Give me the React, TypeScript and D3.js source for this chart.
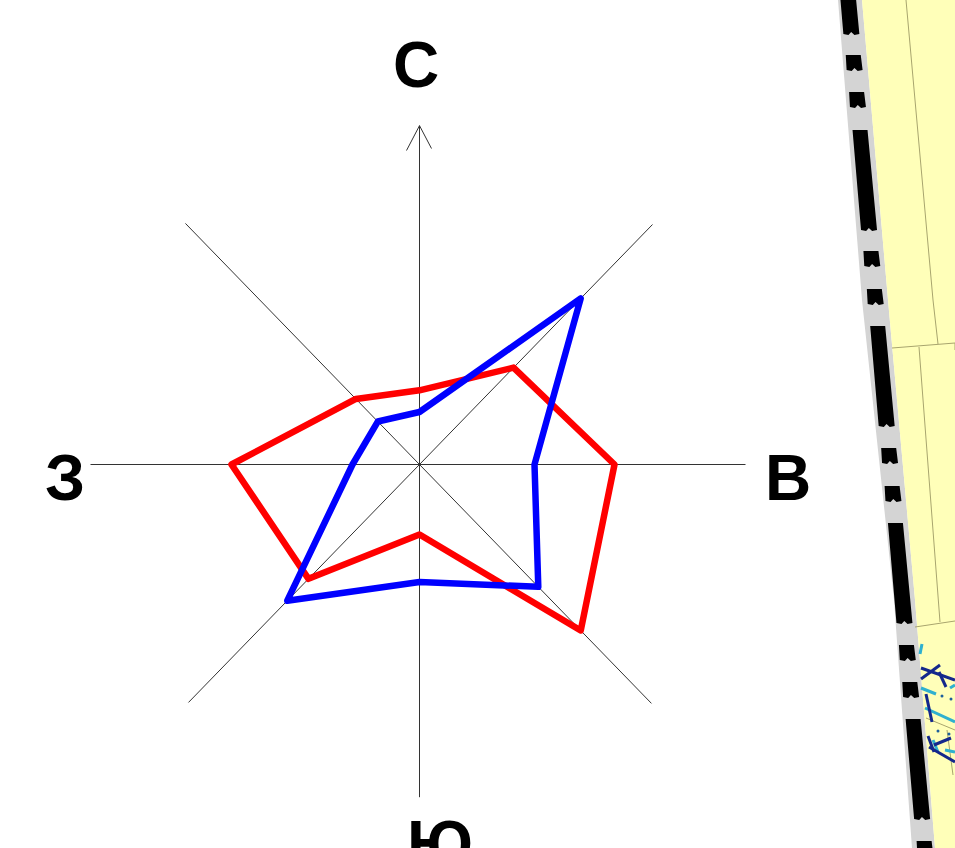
import React from 'react';
import * as d3 from 'd3';

const width = 955;
const height = 848;

// compass directions, clockwise from north
const directions = ['N', 'NE', 'E', 'SE', 'S', 'SW', 'W', 'NW'];
const redValues = [7.2, 13.3, 19.5, 22.8, 6.8, 15.7, 18.8, 9.0];
const blueValues = [5.1, 22.8, 11.5, 16.8, 11.4, 18.7, 6.7, 5.9];

// axis lengths in the same units, same order as directions
const axisLengths = [32.9, 32.95, 32.6, 32.8, 32.3, 32.67, 32.9, 33.1];

const compassLabels = [
  { text: 'С', x: 416, y: 87 },
  { text: 'В', x: 788, y: 500 },
  { text: 'Ю', x: 440, y: 866 },
  { text: 'З', x: 65, y: 500 },
];

// map strip: dash starts along the track
const longDashes = [-66, 130, 326, 523, 719];
const shortDashes = [55, 92, 251, 289, 448, 486, 645, 682, 841];

const mapLines = [
  'M906,0L933,300L938,344',
  'M892,348L955,343',
  'M919,347L940,622',
  'M915,627L955,621',
  'M955,343L955,350',
];
const thinLines = ['M926,718L955,730', 'M947,730L953,775'];
const darkBlueLines = [
  'M921,668L955,680',
  'M921,679L940,665',
  'M939,672L946,687',
  'M926,694L932,722',
  'M929,747L955,762',
  'M934,745L951,738',
  'M928,736L934,752',
];
const lightBlueLines = [
  'M920,654L922,644',
  'M921,688L936,694',
  'M925,708L955,722',
  'M933,740L938,752',
  'M950,688L955,685',
  'M945,750L955,752',
];
const blueDots = [
  [942, 696],
  [951, 699],
  [938, 731],
  [949, 734],
];

const cx = 419.5;
const cy = 464.5;

const angle = d3
  .scalePoint<string>()
  .domain(directions)
  .range([0, (2 * Math.PI * 7) / 8]);
// the picture is slightly stretched vertically
const radiusX = d3.scaleLinear().domain([0, 10]).range([0, 100]);
const radiusY = d3.scaleLinear().domain([0, 10]).range([0, 103]);

function pointX(i: number, v: number) {
  return radiusX(v) * Math.sin(angle(directions[i]) as number);
}
function pointY(i: number, v: number) {
  return -radiusY(v) * Math.cos(angle(directions[i]) as number);
}

function roseLine(values: number[]) {
  const line = d3
    .line<number>()
    .x((d, i) => pointX(i, d))
    .y((d, i) => pointY(i, d))
    .curve(d3.curveLinearClosed);
  return line(values) as string;
}

function dashPath(start: number, len: number) {
  // flat top, notched bottom like the rail symbol
  return `M-7.5,${start}L7.5,${start}L8,${start + len}L3,${start + len + 1}L0,${start + len - 2}L-3,${start + len + 1}L-8,${start + len}Z`;
}

export default function App() {
  return (
    <svg
      width={width}
      height={height}
      style={{ position: 'absolute', left: 0, top: 0, background: '#fff' }}
    >
      {/* map fragment on the right */}
      <g>
        <path d="M838,0L862,0L888,300L915,600L935,848L912,848L894,600L862,300Z" fill="#d4d4d4" />
        <path d="M862,0L955,0L955,848L935,848L915,600L888,300Z" fill="#ffffb9" />
        {mapLines.map(d => (
          <path key={d} d={d} fill="none" stroke="#a8a56e" strokeWidth={1} />
        ))}
        {thinLines.map(d => (
          <path key={d} d={d} fill="none" stroke="#a8a56e" strokeWidth={1} />
        ))}
        {lightBlueLines.map(d => (
          <path key={d} d={d} fill="none" stroke="#2fb0cf" strokeWidth={3} />
        ))}
        {darkBlueLines.map(d => (
          <path key={d} d={d} fill="none" stroke="#14288c" strokeWidth={3} />
        ))}
        {blueDots.map(([x, y]) => (
          <circle key={`${x}-${y}`} cx={x} cy={y} r={1.5} fill="#1d5f9c" />
        ))}
        <g transform="translate(848.3,0) skewX(5.15)">
          {longDashes.map(s => (
            <path key={s} d={dashPath(s, 100)} fill="#000" />
          ))}
          {shortDashes.map(s => (
            <path key={s} d={dashPath(s, 15)} fill="#000" />
          ))}
        </g>
      </g>

      {/* compass axes */}
      <g transform={`translate(${cx},${cy})`} stroke="#333" strokeWidth={1} fill="none">
        {directions.map((d, i) => {
          if (i > 3) return null;
          return (
            <line
              key={d}
              x1={pointX(i + 4, axisLengths[i + 4])}
              y1={pointY(i + 4, axisLengths[i + 4])}
              x2={pointX(i, axisLengths[i])}
              y2={pointY(i, axisLengths[i])}
            />
          );
        })}
        <path d={`M-13,-314L0,${pointY(0, axisLengths[0])}L12,-316`} />
      </g>

      <g transform={`translate(${cx},${cy})`} fill="none" strokeWidth={6.5} strokeLinejoin="round">
        <path d={roseLine(redValues)} stroke="#ff0000" />
        <path d={roseLine(blueValues)} stroke="#0000ff" />
      </g>

      {compassLabels.map(l => (
        <text
          key={l.text}
          x={l.x}
          y={l.y}
          textAnchor="middle"
          fontFamily="'Liberation Sans', Arial, sans-serif"
          fontWeight="bold"
          fontSize={64}
          fill="#000"
        >
          {l.text}
        </text>
      ))}
    </svg>
  );
}
